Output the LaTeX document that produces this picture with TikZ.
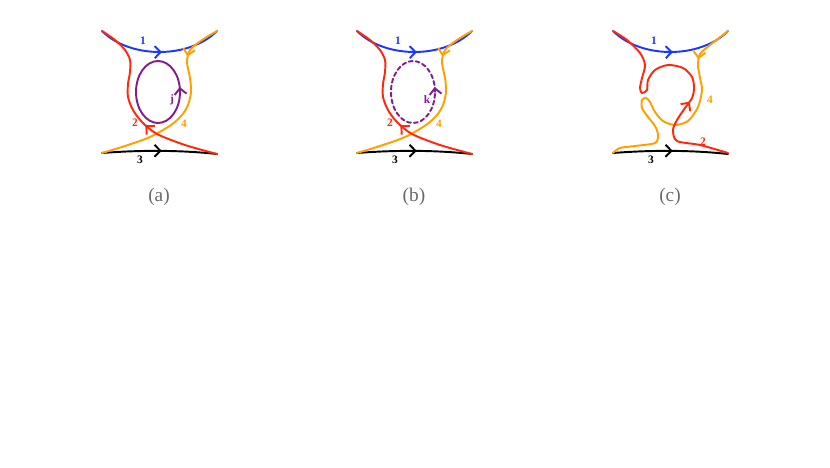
\documentclass[tikz,border=0pt]{standalone}
\usepackage{fontspec}
\setmainfont{Liberation Serif}
\usetikzlibrary{arrows.meta,decorations.markings}
\definecolor{cblue}{RGB}{25,55,255}
\definecolor{cred}{RGB}{255,40,10}
\definecolor{corange}{RGB}{255,160,0}
\definecolor{cpurple}{RGB}{130,30,140}
\definecolor{capgray}{RGB}{105,105,105}
\tikzset{
  strand/.style={line width=1.1pt,line cap=round},
  midarrow/.style={postaction={decorate},decoration={markings,
    mark=at position #1 with {\arrow{Straight Barb[length=3.4pt,width=6.8pt]}}}},
  tag/.style={font=\fontsize{6.5}{7}\selectfont\bfseries,inner sep=0pt},
  caption/.style={font=\fontsize{11}{13}\selectfont,text=capgray},
  dots/.style={dash pattern=on 2.3pt off 1.7pt}
}
\begin{document}
\begin{tikzpicture}[x=0.02cm,y=-0.02cm]
  \useasboundingbox (0,0) rectangle (830,467);
  \foreach \p/\dx in {a/0,b/255,c/511} {
    \begin{scope}[shift={(\dx,0)}]
      \draw[strand,cblue,midarrow=0.52] (102,31) .. controls (130,59) and (189,59) .. (217,31);
      \draw[strand,black,midarrow=0.52] (102,153) .. controls (140,150) and (180,150) .. (217,154);
      \node[tag,cblue] (one\p) at (143,41) {1};
      \node[tag] (three\p) at (140,160) {3};
      \node[caption] (cap\p) at (159,197) {(\p)};
    \end{scope}
  }
  \foreach \p/\dx/\lab/\dash in {a/0/j/solid,b/255/k/dots} {
    \begin{scope}[shift={(\dx,0)}]
      \draw[strand,corange,midarrow=0.21] plot[smooth] coordinates {(217,31) (202,40) (190,50) (187,62) (190,78) (191,92) (188,105) (182,115) (171,125) (150,137) (125,146) (102,153)};
      \draw[strand,cred,midarrow=0.41] plot[smooth] coordinates {(217,154) (185,145) (157,134) (142,122) (133,110) (128,97) (128,84) (130,72) (130,60) (125,50) (115,40) (102,31)};
      \draw[strand,cpurple,\dash,midarrow=0.03] (158,92) ellipse [x radius=0.44cm,y radius=0.62cm];
      \node[tag,cred] (two\p) at (135,123) {2};
      \node[tag,corange] (four\p) at (184,124) {4};
      \node[tag,cpurple] (loop\p) at (172,100) {\lab};
    \end{scope}
  }
  \draw[strand,corange,midarrow=0.16] plot[smooth] coordinates {(728,31) (710,45) (700,54) (698,65) (700,78) (702,90) (698,107) (688,121) (675,125) (663,121) (655,112) (650,102) (646,98) (642,100) (642,108) (648,117) (655,126) (658,135) (655,143) (635,146) (620,148) (613,153)};
  \draw[strand,cred,midarrow=0.36] plot[smooth] coordinates {(728,153) (700,145) (677,141) (673,130) (677,120) (685,108) (692,98) (694,88) (692,77) (683,68) (668,65) (655,70) (648,80) (647,90) (642,93) (640,88) (642,78) (645,65) (640,53) (627,40) (613,31)};
  \node[tag,cred] (twoc) at (703,142) {2};
  \node[tag,corange] (fourc) at (710,100) {4};
\end{tikzpicture}
\end{document}
